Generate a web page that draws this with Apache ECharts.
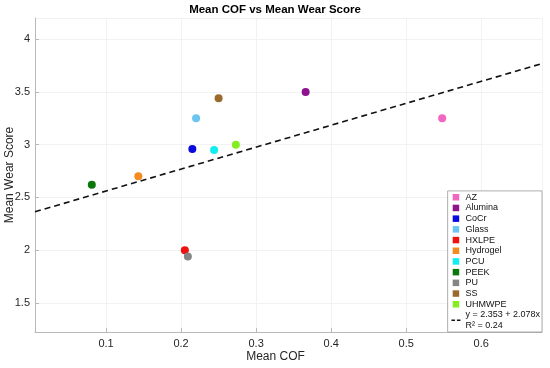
<!DOCTYPE html>
<html>
<head>
<meta charset="utf-8">
<script src="https://cdn.jsdelivr.net/npm/echarts@6/dist/echarts.min.js"></script>
<style>html,body{margin:0;padding:0;background:#fff}#c{width:550px;height:368px}</style>
</head>
<body>
<div id="c"></div>
<script>
var materials = ['AZ','Alumina','CoCr','Glass','HXLPE','Hydrogel','PCU','PEEK','PU','SS','UHMWPE'];
var meanCOF   = [0.548, 0.366, 0.215, 0.220, 0.205, 0.143, 0.244, 0.081, 0.209, 0.250, 0.273];
var meanWear  = [3.25, 3.50, 2.96, 3.25, 2.00, 2.70, 2.95, 2.62, 1.94, 3.44, 3.00];
var colors    = ['#f066c0','#8e128e','#0a0ae0','#6cc4f0','#f01010','#f58a1f','#10eeee','#0b780b','#858585','#9a6a2c','#84ee22'];
var fitIntercept = 2.353;
var fitSlope = 2.078;
var fitLabel = 'y = 2.353 + 2.078x\nR² = 0.24';
var xMin = 0.0053, xMax = 0.681;
var yMin = 1.225, yMax = 4.2;

var FONT = 'Liberation Sans';
var sq = 'path://M0,0H1V1H0Z';
var series = materials.map(function (m, i) {
  return {
    name: m, type: 'scatter', symbol: 'circle', symbolSize: 8,
    itemStyle: { color: colors[i], opacity: 1 },
    data: [[meanCOF[i], meanWear[i]]], z: 3
  };
});
series.push({
  name: fitLabel, type: 'line', symbol: 'none', silent: true, z: 2,
  itemStyle: { color: '#111' },
  lineStyle: { color: '#111', width: 1.6, type: [6, 4] },
  data: [[xMin, fitIntercept + fitSlope * xMin], [xMax, fitIntercept + fitSlope * xMax]]
});
var legendData = materials.map(function (m) { return { name: m, icon: sq }; });
legendData.push({ name: fitLabel, lineStyle: { type: [3.5, 2], width: 1.6, color: '#111' }, itemStyle: { color: 'rgba(0,0,0,0)', borderWidth: 0, opacity: 0 } });

var chart = echarts.init(document.getElementById('c'), null, { renderer: 'canvas' });
chart.setOption({
  animation: false,
  backgroundColor: '#fff',
  title: {
    text: 'Mean COF vs Mean Wear Score', left: 'center', top: 4, padding: 0,
    textStyle: { fontFamily: FONT, fontSize: 11.5, fontWeight: 'bold', color: '#000' }
  },
  grid: { left: 35, right: 8, top: 18, bottom: 36, containLabel: false, outerBoundsMode: 'none' },
  legend: {
    orient: 'vertical', right: 8, bottom: 36,
    itemWidth: 9, itemHeight: 6.5, itemGap: 0,
    padding: [1, 2, 1, 3],
    backgroundColor: '#fff', borderColor: '#9a9a9a', borderWidth: 0.8,
    textStyle: { fontFamily: FONT, fontSize: 9, lineHeight: 10.7, color: '#111' },
    data: legendData
  },
  xAxis: {
    type: 'value', min: xMin, max: xMax, splitNumber: 7,
    name: 'Mean COF', nameLocation: 'middle', nameGap: 19, nameMoveOverlap: false,
    nameTextStyle: { fontFamily: FONT, fontSize: 12, color: '#262626', padding: [0, 26, 0, 0] },
    axisLine: { show: true, lineStyle: { color: '#b8b8b8', width: 1 } },
    axisTick: { show: true, inside: true, length: 4, lineStyle: { color: '#b8b8b8' } },
    axisLabel: { fontFamily: FONT, fontSize: 11, color: '#262626', margin: 6, showMinLabel: false, showMaxLabel: false },
    splitLine: { show: true, lineStyle: { color: '#efefef', width: 0.8 } }
  },
  yAxis: {
    type: 'value', min: yMin, max: yMax, splitNumber: 5,
    name: 'Mean Wear Score', nameLocation: 'middle', nameGap: 19, nameMoveOverlap: false,
    nameTextStyle: { fontFamily: FONT, fontSize: 12, color: '#262626' },
    axisLine: { show: true, lineStyle: { color: '#b8b8b8', width: 1 } },
    axisTick: { show: true, inside: true, length: 4, lineStyle: { color: '#b8b8b8' } },
    axisLabel: { fontFamily: FONT, fontSize: 11, color: '#262626', margin: 5, showMinLabel: false, showMaxLabel: false },
    splitLine: { show: true, lineStyle: { color: '#efefef', width: 0.8 } }
  },
  series: series
});
</script>
</body>
</html>
